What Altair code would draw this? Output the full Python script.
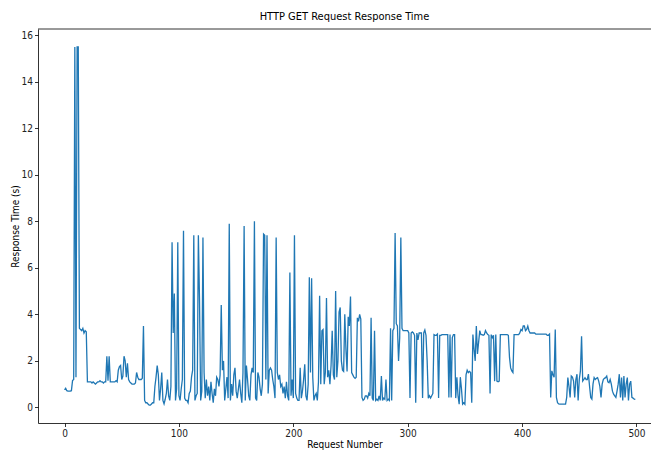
import altair as alt
import pandas as pd

# Response times (s), request numbers 0..499
seg_000 = [0.75, 0.82, 0.72, 0.7, 0.7, 0.7, 0.72, 1.15, 1.2, 15.5,
           1.3, 15.5, 15.5, 3.4, 3.35, 3.3, 3.4, 3.2, 3.3, 3.25,
           1.1, 1.1, 1.1, 1.1, 1.05, 1.1, 1.05, 1.0, 1.05, 1.1,
           1.1, 1.15, 1.1, 1.1, 1.05, 1.1, 1.1, 2.2, 1.15, 2.2,
           1.1, 1.1, 1.1, 1.1, 1.1, 1.15, 1.1, 1.6, 1.75, 1.8]
seg_050 = [1.2, 1.35, 2.2, 2.0, 1.3, 1.9, 1.2, 1.1, 1.05, 1.0,
           1.0, 1.0, 1.05, 1.5, 1.3, 1.2, 1.2, 1.2, 1.25, 3.5,
           0.3, 0.2, 0.2, 0.15, 0.1, 0.1, 0.15, 0.2, 0.2, 0.9,
           1.3, 1.8, 1.4, 0.3, 0.8, 1.5, 0.3, 0.15, 0.35, 0.6,
           1.2, 0.5, 0.3, 0.9, 7.1, 3.2, 4.9, 0.3, 0.8, 7.1]
seg_100 = [0.5, 0.3, 0.8, 1.2, 7.6, 0.4, 0.3, 0.3, 0.2, 0.6,
           0.7, 1.3, 1.6, 7.4, 0.3, 0.5, 0.6, 7.4, 4.6, 0.3,
           0.7, 7.3, 1.5, 0.4, 1.2, 0.5, 0.9, 0.3, 1.1, 0.6,
           0.2, 0.8, 0.5, 1.3, 1.2, 0.9, 1.4, 4.4, 1.6, 2.0,
           0.3, 0.8, 1.3, 0.4, 7.9, 0.3, 1.0, 0.5, 1.4, 1.7]
seg_150 = [0.7, 0.4, 0.8, 1.2, 0.6, 0.2, 1.5, 7.8, 0.3, 1.8,
           1.2, 0.5, 0.3, 1.4, 1.7, 1.5, 8.0, 0.4, 0.3, 1.5,
           1.3, 0.8, 0.5, 1.0, 7.45, 7.4, 1.2, 7.4, 0.6, 1.6,
           1.7, 1.6, 1.2, 0.9, 0.4, 7.3, 1.5, 1.2, 1.4, 0.9,
           1.0, 0.6, 0.9, 0.4, 1.1, 0.5, 0.3, 5.8, 0.5, 1.2]
seg_200 = [0.4, 7.4, 0.6, 0.4, 0.3, 0.3, 1.7, 0.4, 0.7, 1.2,
           1.85, 0.5, 0.3, 1.0, 5.6, 1.5, 5.55, 1.3, 0.3, 0.5,
           0.6, 0.3, 1.1, 4.8, 1.0, 3.3, 3.35, 1.0, 1.5, 4.7,
           1.3, 1.6, 1.0, 1.8, 3.3, 1.4, 1.2, 5.0, 1.3, 2.0,
           4.1, 4.3, 2.0, 1.6, 1.55, 4.0, 2.5, 1.55, 3.9, 3.5]
seg_250 = [4.77, 1.5, 1.4, 1.3, 1.25, 1.3, 3.85, 3.7, 4.0, 3.8,
           0.43, 0.3, 0.35, 0.5, 0.5, 0.4, 0.6, 0.5, 3.85, 0.4,
           0.3, 3.3, 0.3, 0.35, 0.3, 0.5, 0.3, 1.35, 0.3, 0.4,
           0.35, 1.2, 0.3, 0.35, 0.3, 3.4, 0.3, 3.3, 3.4, 7.5,
           3.6, 3.5, 2.0, 3.0, 7.3, 3.4, 3.3, 3.3, 3.3, 3.3]
seg_300 = [3.3, 3.2, 0.4, 3.2, 3.25, 3.2, 3.1, 0.2, 3.2, 2.9,
           3.2, 3.2, 3.2, 0.4, 3.2, 3.33, 3.1, 2.0, 0.4, 0.5,
           0.4, 0.5, 0.6, 3.13, 3.1, 3.1, 3.15, 0.4, 3.1, 3.1,
           3.13, 3.13, 3.13, 3.13, 3.13, 3.13, 0.43, 3.13, 0.43, 3.0,
           3.13, 3.13, 0.4, 1.3, 0.5, 0.14, 1.3, 0.8, 0.14, 0.2]
seg_350 = [0.14, 1.4, 1.6, 1.5, 1.55, 1.5, 0.2, 3.13, 2.5, 2.0,
           3.5, 2.3, 2.8, 3.3, 3.13, 3.13, 3.1, 3.13, 3.3, 3.2,
           3.13, 3.1, 0.6, 3.13, 3.0, 3.1, 1.13, 3.13, 1.13, 1.1,
           1.13, 3.13, 3.13, 3.13, 3.13, 3.13, 3.13, 3.13, 3.1, 2.15,
           1.7, 1.57, 1.5, 3.13, 3.13, 3.13, 3.13, 3.13, 3.2, 3.35]
seg_400 = [3.3, 3.5, 3.5, 3.3, 3.35, 3.5, 3.3, 3.2, 3.2, 3.2,
           3.2, 3.2, 3.15, 3.15, 3.15, 3.15, 3.15, 3.15, 3.15, 3.15,
           3.15, 3.15, 3.1, 3.1, 3.15, 0.43, 1.57, 1.4, 1.3, 3.35,
           0.43, 0.2, 0.15, 0.14, 0.14, 0.14, 0.14, 0.14, 0.14, 0.43,
           1.28, 0.9, 0.43, 1.35, 1.3, 1.13, 0.43, 1.2, 1.43, 0.3]
seg_450 = [1.2, 1.57, 3.06, 1.13, 1.2, 1.28, 1.2, 1.2, 1.43, 0.9,
           0.43, 0.36, 1.0, 1.28, 1.2, 1.25, 1.28, 1.13, 0.9, 0.43,
           1.0, 1.2, 1.25, 1.28, 1.35, 1.1, 1.06, 1.2, 1.0, 0.7,
           0.57, 0.5, 0.43, 0.7, 1.0, 1.43, 0.43, 1.28, 0.3, 1.35,
           0.43, 1.0, 1.28, 0.3, 1.0, 1.13, 0.43, 0.4, 0.36, 0.35]

response_time = (seg_000 + seg_050 + seg_100 + seg_150 + seg_200 +
                 seg_250 + seg_300 + seg_350 + seg_400 + seg_450)
request_number = list(range(len(response_time)))

x_ticks = [0, 100, 200, 300, 400, 500]
y_ticks = [0, 2, 4, 6, 8, 10, 12, 14, 16]

df = pd.DataFrame({"request": request_number, "time": response_time})

FONT = "'DejaVu Sans Condensed', 'DejaVu Sans', sans-serif"
W, H = 613, 394

line = (
    alt.Chart(df)
    .mark_line(color="#1f77b4", strokeWidth=1.3, clip=True)
    .encode(
        x=alt.X(
            "request:Q",
            scale=alt.Scale(domain=[-23.2, 512.7], nice=False, zero=False),
            axis=alt.Axis(
                values=x_ticks, title="Request Number", grid=False,
                format="d", labelFontSize=10, titleFontSize=10,
                labelPadding=2, titlePadding=1, tickSize=3.5,
            ),
        ),
        y=alt.Y(
            "time:Q",
            scale=alt.Scale(domain=[-0.67, 16.27], nice=False, zero=False),
            axis=alt.Axis(
                values=y_ticks, title="Response Time (s)", grid=False,
                format="d", labelFontSize=10, titleFontSize=10,
                labelPadding=2, titlePadding=1, tickSize=3.5,
            ),
        ),
    )
)

top_spine = (
    alt.Chart(pd.DataFrame({"k": [0]}))
    .mark_rule(color="#000000", strokeWidth=0.8)
    .encode(y=alt.value(0), x=alt.value(0), x2=alt.value(W))
)

chart = (
    alt.layer(line, top_spine)
    .properties(
        width=W,
        height=H,
        autosize=alt.AutoSizeParams(type="none"),
        padding={"left": 30, "top": 21, "right": 0, "bottom": 27},
        title=alt.TitleParams(
            "HTTP GET Request Response Time", fontSize=11,
            fontWeight="normal", offset=7, font=FONT, color="#000000",
        ),
    )
    .configure_view(stroke=None)
    .configure_axis(
        domainColor="#000000", tickColor="#000000", labelColor="#222222",
        titleColor="#000000", labelFont=FONT, titleFont=FONT,
        titleFontWeight="normal", domainWidth=0.8, tickWidth=0.8,
    )
)

chart.save("out.html", embed_options={"renderer": "svg", "actions": False})
